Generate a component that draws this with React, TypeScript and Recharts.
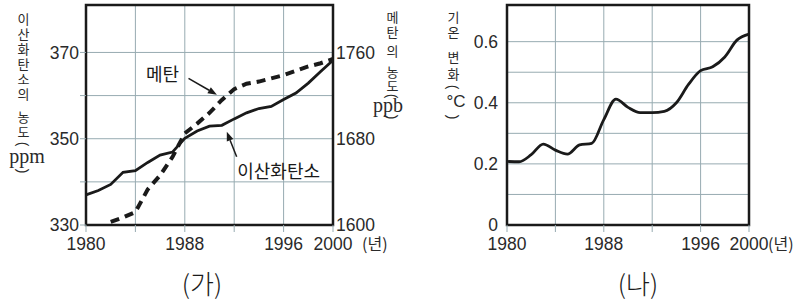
import React from 'react';
import {
  LineChart,
  Line,
  XAxis,
  YAxis,
  CartesianGrid,
  ReferenceArea,
  ReferenceLine,
  ReferenceDot,
} from 'recharts';

// values
const years = [
  1980, 1981, 1982, 1983, 1984, 1985, 1986, 1987, 1988, 1989, 1990,
  1991, 1992, 1993, 1994, 1995, 1996, 1997, 1998, 1999, 2000,
];
const co2Ppm = [
  337.0, 338.0, 339.4, 342.2, 342.6, 344.5, 346.2, 346.9, 350.1, 351.8, 352.9,
  353.1, 354.6, 356.0, 357.0, 357.5, 359.1, 360.6, 362.9, 365.6, 368.2,
];
const methanePpb = [
  null, null, 1603, 1607, 1612, 1633, 1646, 1663, 1685, 1694, 1704,
  1716, 1726, 1731, 1733, 1736, 1739, 1743, 1747, 1750, 1754,
];
const tempChange = [
  0.208, 0.207, 0.23, 0.265, 0.245, 0.232, 0.262, 0.267, 0.345, 0.412, 0.385,
  0.368, 0.368, 0.372, 0.4, 0.46, 0.505, 0.518, 0.55, 0.605, 0.625,
];

const yearTicks = [1980, 1984, 1988, 1992, 1996, 2000];
const yearLabels = [1980, 1988, 1996, 2000];
const co2Ticks = [330, 340, 350, 360, 370];
const co2Labels = [330, 350, 370];
const methaneTicks = [1600, 1680, 1760];
const tempTicks = [0, 0.1, 0.2, 0.3, 0.4, 0.5, 0.6];
const tempLabels = [0, 0.2, 0.4, 0.6];

const gasData = years.map((year, i) => ({ year, co2: co2Ppm[i], methane: methanePpb[i] }));
const tempData = years.map((year, i) => ({ year, temp: tempChange[i] }));

const NUM_FONT = '"Liberation Sans", Arial, sans-serif';
const KO_FONT = '"Noto Sans CJK KR", sans-serif';
const SERIF = '"Liberation Serif", "DejaVu Serif", serif';
const GRID = '#97abb1';
const INK = '#1a1a1a';
const LABEL = '#2a2a2a';

const YearTick = (props: any) => {
  const { x, y, payload, unitGap } = props;
  const v = payload.value;
  if (!yearLabels.includes(v)) return <g />;
  return (
    <g>
      <text x={x} y={y + 18} textAnchor="middle" fontFamily={NUM_FONT} fontSize={17.5} fill={LABEL}>
        {v}
      </text>
      {v === 2000 && (
        <text x={x + unitGap} y={y + 18} textAnchor="start" fontFamily={KO_FONT} fontSize={16} fill={LABEL}>
          (년)
        </text>
      )}
    </g>
  );
};

const ValueTick = (props: any) => {
  const { x, y, payload, show, anchor } = props;
  if (!show.includes(payload.value)) return <g />;
  return (
    <text x={x} y={y} dy="0.36em" textAnchor={anchor} fontFamily={NUM_FONT} fontSize={17.5} fill={LABEL}>
      {payload.value}
    </text>
  );
};

const Arrow = (props: any) => {
  const { x1, y1, x2, y2 } = props;
  const a = Math.atan2(y2 - y1, x2 - x1);
  const len = 9;
  const w = 3.5;
  const bx = x2 - len * Math.cos(a);
  const by = y2 - len * Math.sin(a);
  const pts = [
    `${x2},${y2}`,
    `${bx + w * Math.sin(a)},${by - w * Math.cos(a)}`,
    `${bx - w * Math.sin(a)},${by + w * Math.cos(a)}`,
  ].join(' ');
  return (
    <g>
      <line x1={x1} y1={y1} x2={bx} y2={by} stroke={INK} strokeWidth={1.5} />
      <polygon points={pts} fill={INK} />
    </g>
  );
};

// upright korean run, written top to bottom; cy = centre of the first glyph
const VRun = ({ x, cy, text, pitch = 15, size = 13 }: { x: number; cy: number; text: string; pitch?: number; size?: number }) => (
  <div
    style={{
      position: 'absolute',
      left: x - 10,
      top: cy - size / 2,
      width: 20,
      writingMode: 'vertical-rl',
      textOrientation: 'upright',
      fontFamily: KO_FONT,
      fontSize: size,
      lineHeight: '20px',
      letterSpacing: pitch - size,
      color: LABEL,
      whiteSpace: 'nowrap',
    }}
  >
    {text}
  </div>
);

// "(" / ")" turned sideways as in vertical writing, with a horizontal unit between
const UnitParen = ({ x, top, unit, bottom, unitY, unitDx = 0, unitFont = SERIF, unitSize = 20 }: any) => (
  <g fill={LABEL}>
    <text x={x} y={top} textAnchor="middle" dominantBaseline="central" fontFamily={NUM_FONT} fontSize={14} transform={`rotate(90 ${x} ${top})`}>
      (
    </text>
    <text x={x + unitDx} y={unitY} textAnchor="middle" dominantBaseline="central" fontFamily={unitFont} fontSize={unitSize}>
      {unit}
    </text>
    <text x={x} y={bottom} textAnchor="middle" dominantBaseline="central" fontFamily={NUM_FONT} fontSize={14} transform={`rotate(90 ${x} ${bottom})`}>
      )
    </text>
  </g>
);

const GasChart = () => (
  <LineChart width={420} height={307} data={gasData} margin={{ top: 5, right: 0, bottom: 0, left: 0 }}>
    <CartesianGrid yAxisId="left" stroke={GRID} strokeWidth={1} />
    <XAxis
      dataKey="year"
      type="number"
      domain={[1980, 2000]}
      ticks={yearTicks}
      interval={0}
      height={82}
      axisLine={false}
      tickLine={{ stroke: GRID }}
      tickSize={7}
      tickMargin={0}
      tick={(p: any) => <YearTick {...p} unitGap={29} />}
    />
    <YAxis
      yAxisId="left"
      type="number"
      domain={[330, 381]}
      ticks={co2Ticks}
      interval={0}
      width={86}
      axisLine={false}
      tickLine={{ stroke: GRID }}
      tickSize={6}
      tickMargin={1}
      allowDataOverflow
      tick={(p: any) => <ValueTick {...p} show={co2Labels} anchor="end" />}
    />
    <YAxis
      yAxisId="right"
      orientation="right"
      type="number"
      domain={[1600, 1804]}
      ticks={methaneTicks}
      interval={0}
      width={87}
      axisLine={false}
      tickLine={false}
      tickSize={0}
      tickMargin={3}
      allowDataOverflow
      tick={(p: any) => <ValueTick {...p} show={methaneTicks} anchor="start" />}
    />
    <ReferenceArea
      yAxisId="left"
      x1={1980}
      x2={2000}
      y1={330}
      y2={381}
      fill="none"
      stroke={INK}
      strokeWidth={2.5}
      ifOverflow="visible"
    />
    <Line
      yAxisId="right"
      dataKey="methane"
      type="linear"
      stroke={INK}
      strokeWidth={4}
      strokeDasharray="9 6"
      dot={false}
      isAnimationActive={false}
    />
    <Line
      yAxisId="left"
      dataKey="co2"
      type="linear"
      stroke={INK}
      strokeWidth={2.8}
      dot={false}
      isAnimationActive={false}
    />
    <ReferenceLine yAxisId="left" segment={[{ x: 1988.3, y: 364.0 }, { x: 1990.6, y: 360.2 }]} shape={Arrow} />
    <ReferenceLine yAxisId="left" segment={[{ x: 1992.2, y: 345.8 }, { x: 1991.4, y: 351.6 }]} shape={Arrow} />
    <ReferenceDot
      yAxisId="left"
      x={1986.2}
      y={364.8}
      r={0}
      fill="none"
      stroke="none"
      label={{ value: '메탄', position: 'center', fontFamily: KO_FONT, fontSize: 18, fill: INK }}
    />
    <ReferenceDot
      yAxisId="left"
      x={1995.6}
      y={342.3}
      r={0}
      fill="none"
      stroke="none"
      label={{ value: '이산화탄소', position: 'center', fontFamily: KO_FONT, fontSize: 18, fill: INK }}
    />
  </LineChart>
);

const TempChart = () => (
  <LineChart width={383} height={307} data={tempData} margin={{ top: 5, right: 54, bottom: 0, left: 0 }}>
    <CartesianGrid stroke={GRID} strokeWidth={1} />
    <XAxis
      dataKey="year"
      type="number"
      domain={[1980, 2000]}
      ticks={yearTicks}
      interval={0}
      height={82}
      axisLine={false}
      tickLine={{ stroke: GRID }}
      tickSize={7}
      tickMargin={0}
      tick={(p: any) => <YearTick {...p} unitGap={19} />}
    />
    <YAxis
      type="number"
      domain={[0, 0.72]}
      ticks={tempTicks}
      interval={0}
      width={87}
      axisLine={false}
      tickLine={false}
      tickSize={0}
      tickMargin={9}
      allowDataOverflow
      tick={(p: any) => <ValueTick {...p} show={tempLabels} anchor="end" />}
    />
    <ReferenceArea
      x1={1980}
      x2={2000}
      y1={0}
      y2={0.72}
      fill="none"
      stroke={INK}
      strokeWidth={2.5}
      ifOverflow="visible"
    />
    <Line
      dataKey="temp"
      type="monotone"
      stroke={INK}
      strokeWidth={2.8}
      dot={false}
      isAnimationActive={false}
    />
  </LineChart>
);

export default function App() {
  return (
    <div style={{ position: 'absolute', left: 0, top: 0, width: 803, height: 307, background: '#fff' }}>
      <div style={{ position: 'absolute', left: 0, top: 0 }}>
        <GasChart />
      </div>
      <div style={{ position: 'absolute', left: 420, top: 0 }}>
        <TempChart />
      </div>

      {/* axis titles, written vertically */}
      <VRun x={23} cy={19} text="이산화탄소의" />
      <VRun x={23} cy={117} text="농도" />
      <VRun x={392} cy={17} text="메탄" />
      <VRun x={392} cy={51} text="의" />
      <VRun x={392} cy={72} text="농도" pitch={14} />
      <VRun x={453} cy={17} text="기온" />
      <VRun x={453} cy={57} text="변화" pitch={17} />

      <svg
        width={803}
        height={307}
        style={{ position: 'absolute', left: 0, top: 0, pointerEvents: 'none' }}
      >
        <UnitParen x={23} top={144} unit="ppm" unitY={156} unitDx={4} bottom={171} />
        <UnitParen x={392} top={96} unit="ppb" unitY={105} unitDx={-4} bottom={117} />
        <UnitParen x={453} top={87} unit="°C" unitY={101} unitDx={3} unitFont={NUM_FONT} unitSize={17} bottom={117} />
        <text x={202} y={282} textAnchor="middle" dominantBaseline="central" fontFamily={KO_FONT} fontWeight={300} fontSize={26} fill={INK}>
          (가)
        </text>
        <text x={638} y={282} textAnchor="middle" dominantBaseline="central" fontFamily={KO_FONT} fontWeight={300} fontSize={26} fill={INK}>
          (나)
        </text>
      </svg>
    </div>
  );
}
